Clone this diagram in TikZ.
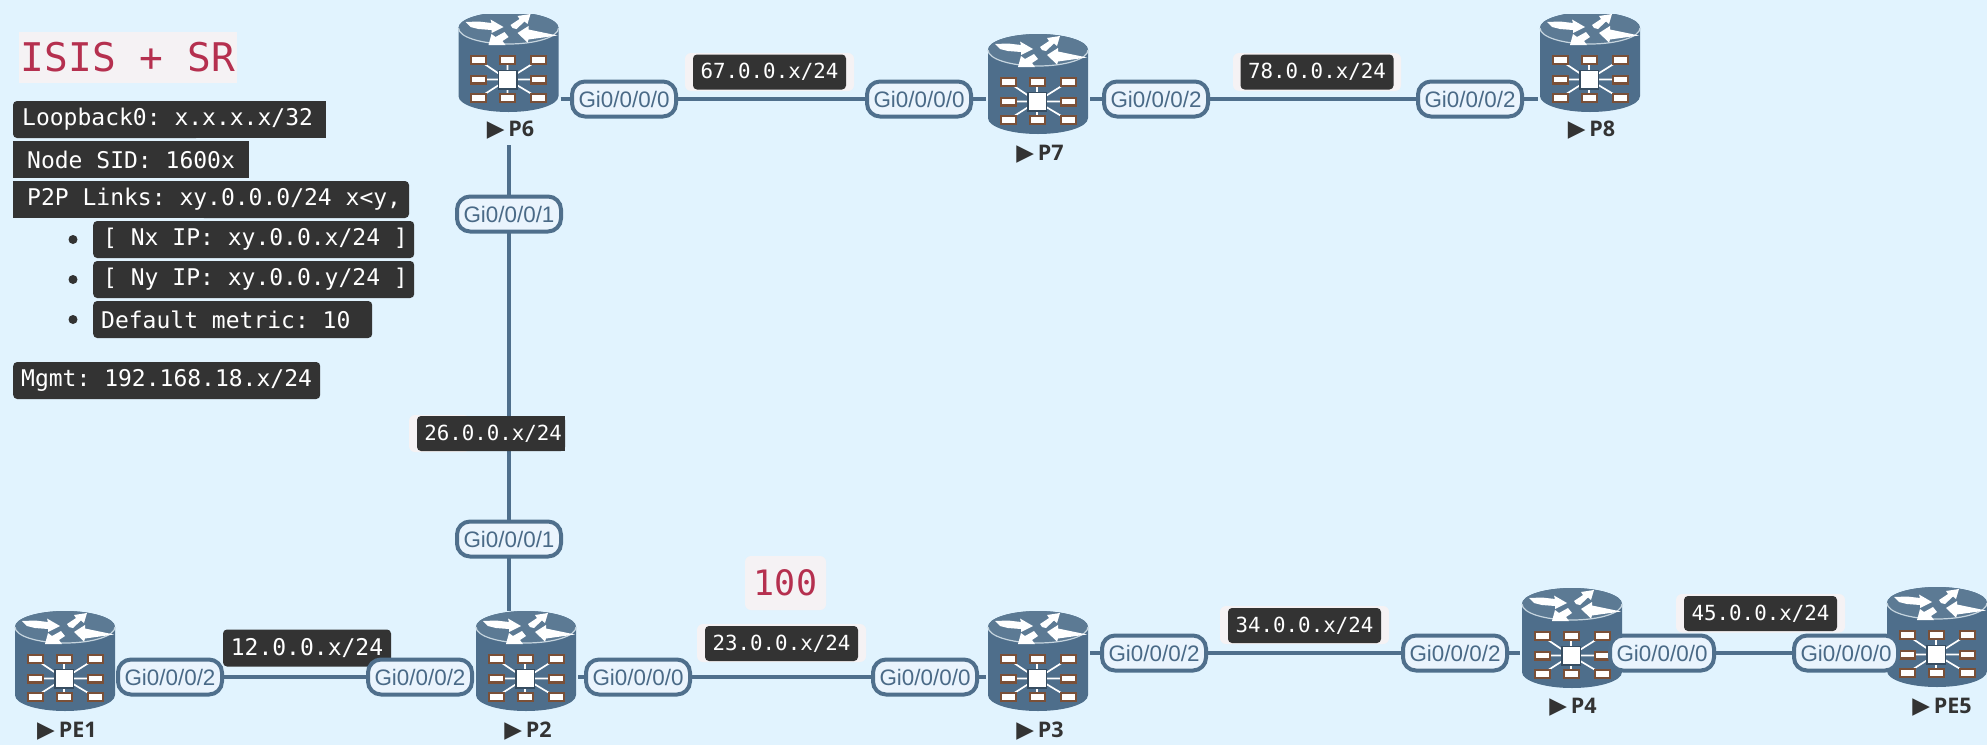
\documentclass[tikz,border=0pt]{standalone}
\usepackage{fontspec}
\setmainfont{Liberation Sans}
\newfontfamily\monof{DejaVu Sans Mono}
\newfontfamily\labf{Open Sans}
\newfontfamily\symf{DejaVu Sans}
\definecolor{bgc}{HTML}{E1F3FE}
\definecolor{steel}{HTML}{4F6F8C}
\definecolor{body}{HTML}{4E6E8B}
\definecolor{pillfill}{HTML}{EAF4FD}
\definecolor{pilltxt}{HTML}{4A6A87}
\definecolor{dark}{HTML}{333333}
\definecolor{halo}{HTML}{F5F2F4}
\definecolor{crim}{HTML}{B5304F}
\definecolor{sepc}{HTML}{C6D5DF}
\definecolor{portc}{HTML}{7A5038}
\definecolor{txtd}{HTML}{333333}
\pgfdeclarelayer{under}
\pgfsetlayers{under,main}
\tikzset{
  link/.style={draw=steel,line width=4pt},
  pill/.style={draw=steel,fill=pillfill,line width=4pt,rounded corners=13pt,minimum width=104pt,minimum height=35pt,inner sep=0pt,text=pilltxt,font=\fontsize{22.4}{24}\selectfont},
  iplab/.style={fill=dark,text=white,rounded corners=4pt,inner sep=0pt,minimum height=35pt,font=\monof\frenchspacing\fontsize{20.8}{24}\selectfont},
  iplabb/.style={iplab,minimum height=37pt,font=\monof\frenchspacing\fontsize{23}{26}\selectfont},
  halobox/.style={fill=halo,rounded corners=6pt},
  leftlab/.style={fill=dark,text=white,rounded corners=4pt,anchor=west,inner sep=0pt,minimum height=37pt,font=\monof\frenchspacing\fontsize{23}{26}\selectfont},
  rlabel/.style={inner sep=0pt,text=txtd,font=\labf\bfseries\fontsize{21.5}{24}\selectfont},
  rbox/.style={inner sep=0pt,minimum width=104pt,minimum height=100pt},
  title/.style={fill=halo,text=crim,inner sep=0pt,font=\monof\frenchspacing\fontsize{39.5}{44}\selectfont},
  bull/.style={circle,fill=dark,inner sep=0pt,minimum size=9pt}
}
\newcommand{\routerart}[3]{%
  \node[rbox] (#1) at (#2,#3+50) {};
  \begin{scope}[shift={(#2,#3)}]
    \fill[body] (-50,16) -- (-50,84) .. controls (-50,93) and (-27.5,100) .. (0,100) .. controls (27.5,100) and (50,93) .. (50,84) -- (50,16) .. controls (50,7) and (27.5,0) .. (0,0) .. controls (-27.5,0) and (-50,7) .. cycle;
    \fill[body!92!white] (0,16) ellipse [x radius=50,y radius=16];
    \draw[sepc,line width=1.2pt] (-50,16) .. controls (-50,25) and (-27.5,32) .. (0,32) .. controls (27.5,32) and (50,25) .. (50,16);
    \fill[white] (-43,10) -- (-30,9.5) -- (-17,11) -- (-18,7.5) -- (-5,15) -- (-17,21) -- (-17,18) -- (-30,17) -- (-38,15) -- cycle;
    \fill[white] (2,13) -- (11,7) -- (9,4) -- (22,2) -- (19,12) -- (16,9.5) -- (8,17) -- (4,16) -- cycle;
    \fill[white] (-20,33) -- (-17,22) -- (-13,25) -- (-4,20) -- (0,25) -- (-6,29) -- (-3,33) -- cycle;
    \fill[white] (9,21) -- (20,14) -- (20,17.5) -- (49,23.5) -- (20,27.5) -- (19,30.5) -- cycle;
    \draw[white,line width=1.7pt] (-1,67.5) -- (-30,48) (-1,67.5) -- (-1,48) (-1,67.5) -- (30,48) (-1,67.5) -- (-30,67.5) (-1,67.5) -- (30,67.5) (-1,67.5) -- (-30,86) (-1,67.5) -- (-1,86) (-1,67.5) -- (30,86);
    \foreach \px in {-30,-1,30}{\foreach \py in {48,86}{
      \fill[portc] (\px-8.5,\py-5) rectangle (\px+8.5,\py+5);
      \fill[white] (\px-6.5,\py-2.8) rectangle (\px+6.5,\py+2.8);}}
    \foreach \px in {-30,30}{
      \fill[portc] (\px-8.5,67.5-5) rectangle (\px+8.5,67.5+5);
      \fill[white] (\px-6.5,67.5-2.8) rectangle (\px+6.5,67.5+2.8);}
    \fill[body!70!black] (-11,57.5) rectangle (9,77.5);
    \fill[white] (-9.5,59) rectangle (7.5,76);
  \end{scope}}
\newcommand{\rlab}[4]{\node[rlabel] (#1) at (#2,#3) {{\symf\fontsize{23}{24}\selectfont ▶}\hspace{4pt}#4};}
\newcommand{\leftlabtext}[3]{\makebox[#1pt][l]{\hspace{#2pt}#3}}
\begin{document}
\begin{tikzpicture}[x=1pt,y=-1pt]
\begin{pgfonlayer}{under}
\fill[bgc] (0,0) rectangle (1987,745);
\end{pgfonlayer}
\useasboundingbox (0,0) rectangle (1987,745);

\begin{scope}
  \clip (400,14) rectangle (620,130);
  \routerart{P6}{508.5}{12}
\end{scope}
\routerart{P7}{1038}{34}
\begin{scope}
  \clip (1530,14) rectangle (1650,130);
  \routerart{P8}{1590}{12}
\end{scope}
\routerart{PE1}{65}{611}
\routerart{P2}{526}{611}
\routerart{P3}{1038}{611}
\routerart{P4}{1572}{588}
\routerart{PE5}{1937}{587}

\rlab{lP6}{510.5}{130.5}{P6}
\rlab{lP7}{1040}{154}{P7}
\rlab{lP8}{1591.5}{130}{P8}
\rlab{lPE1}{67}{731}{PE1}
\rlab{lP2}{528}{731}{P2}
\rlab{lP3}{1040}{731}{P3}
\rlab{lP4}{1573}{707}{P4}
\rlab{lPE5}{1942}{707}{PE5}

\begin{scope}[every node/.append style={pill}]
\node (a6r) at (624,99) {Gi0/0/0/0};
\node (a7l) at (919,99) {Gi0/0/0/0};
\node (a7r) at (1156,99) {Gi0/0/0/2};
\node (a8l) at (1470,99) {Gi0/0/0/2};
\node (a6d) at (509,214) {Gi0/0/0/1};
\node (a2u) at (509,539) {Gi0/0/0/1};
\node (a1r) at (170,677) {Gi0/0/0/2};
\node (a2l) at (420,677) {Gi0/0/0/2};
\node (a2r) at (638,677) {Gi0/0/0/0};
\node (a3l) at (925,677) {Gi0/0/0/0};
\node (a3r) at (1154,653) {Gi0/0/0/2};
\node (a4l) at (1455,653) {Gi0/0/0/2};
\node (a4r) at (1662,653) {Gi0/0/0/0};
\node (a5l) at (1846,653) {Gi0/0/0/0};
\end{scope}

\begin{pgfonlayer}{under}
\coordinate (v6) at (509,145);
\draw[link] (a6r -| P6.east) -- (a7l -| P7.west);
\draw[link] (a7r -| P7.east) -- (a8l -| P8.west);
\draw[link] (v6) -- (a2u |- P2.north);
\draw[link] (a1r -| PE1.east) -- (a2l -| P2.west);
\draw[link] (a2r -| P2.east) -- (a3l -| P3.west);
\draw[link] (a3r -| P3.east) -- (a4l -| P4.west);
\draw[link] (a4r.east) -- (a5l.west);

\fill[halobox] (685,53) rectangle (854,91);
\node[iplab,minimum width=153pt] (n67) at (769.5,72) {67.0.0.x/24};
\fill[halobox] (1233,53) rectangle (1401,91);
\node[iplab,minimum width=153pt] (n78) at (1317,72) {78.0.0.x/24};
\fill[halobox] (409,415) rectangle (470,452);
\fill[dark] (491,416) rectangle (565,451);
\node[iplab,minimum width=148pt] (n26) at (491,433.5) {\makebox[148pt][r]{26.0.0.x/24\hspace{3pt}}};
\node[iplabb,minimum width=168pt] (n12) at (307,648) {12.0.0.x/24};
\fill[halobox] (697,624) rectangle (866,662);
\node[iplab,minimum width=153pt] (n23) at (781.5,643.5) {23.0.0.x/24};
\fill[halobox] (1220,606) rectangle (1389,644);
\node[iplab,minimum width=153pt] (n34) at (1304.5,625.5) {34.0.0.x/24};
\fill[halobox] (1676,594) rectangle (1845,632.5);
\node[iplab,minimum width=153pt] (n45) at (1760.5,613.5) {45.0.0.x/24};
\fill[dark,rounded corners=4pt] (13,101) rectangle (200,138);
\fill[dark] (169,101) rectangle (326,138);
\fill[dark] (13,141) rectangle (249,178);
\fill[dark,rounded corners=4pt] (200,181) rectangle (409,218);
\fill[dark] (13,181) rectangle (300,218);
\end{pgfonlayer}

\node[title,minimum width=81pt,minimum height=54pt,rounded corners=6pt,font=\monof\fontsize{35}{40}\selectfont] (hund) at (785.5,583) {100};

\node[title,minimum width=218pt,minimum height=51pt] (ttl) at (128,57.5) {ISIS + SR};
\node[leftlab,fill=none] (l1) at (13,119.5) {\leftlabtext{313}{9}{Loopback0: x.x.x.x/32}};
\node[leftlab,fill=none] (l2) at (13,159.5) {\leftlabtext{236}{14}{Node SID: 1600x}};
\node[leftlab,fill=none] (l3) at (13,199.5) {\leftlabtext{396}{14}{P2P Links: xy.0.0.0/24 x<y,}};
\node[leftlab] (l4) at (93,239.5) {\leftlabtext{321}{10}{[ Nx IP: xy.0.0.x/24 ]}};
\node[leftlab] (l5) at (93,279.5) {\leftlabtext{321}{10}{[ Ny IP: xy.0.0.y/24 ]}};
\node[leftlab] (l6) at (93,319.5) {\leftlabtext{279}{8}{Default metric: 10}};
\node[leftlab] (l7) at (13,380.5) {\leftlabtext{307}{8}{Mgmt: 192.168.18.x/24}};
\node[bull] (b1) at (73,239.5) {};
\node[bull] (b2) at (73,279.5) {};
\node[bull] (b3) at (73,319.5) {};
\end{tikzpicture}
\end{document}
